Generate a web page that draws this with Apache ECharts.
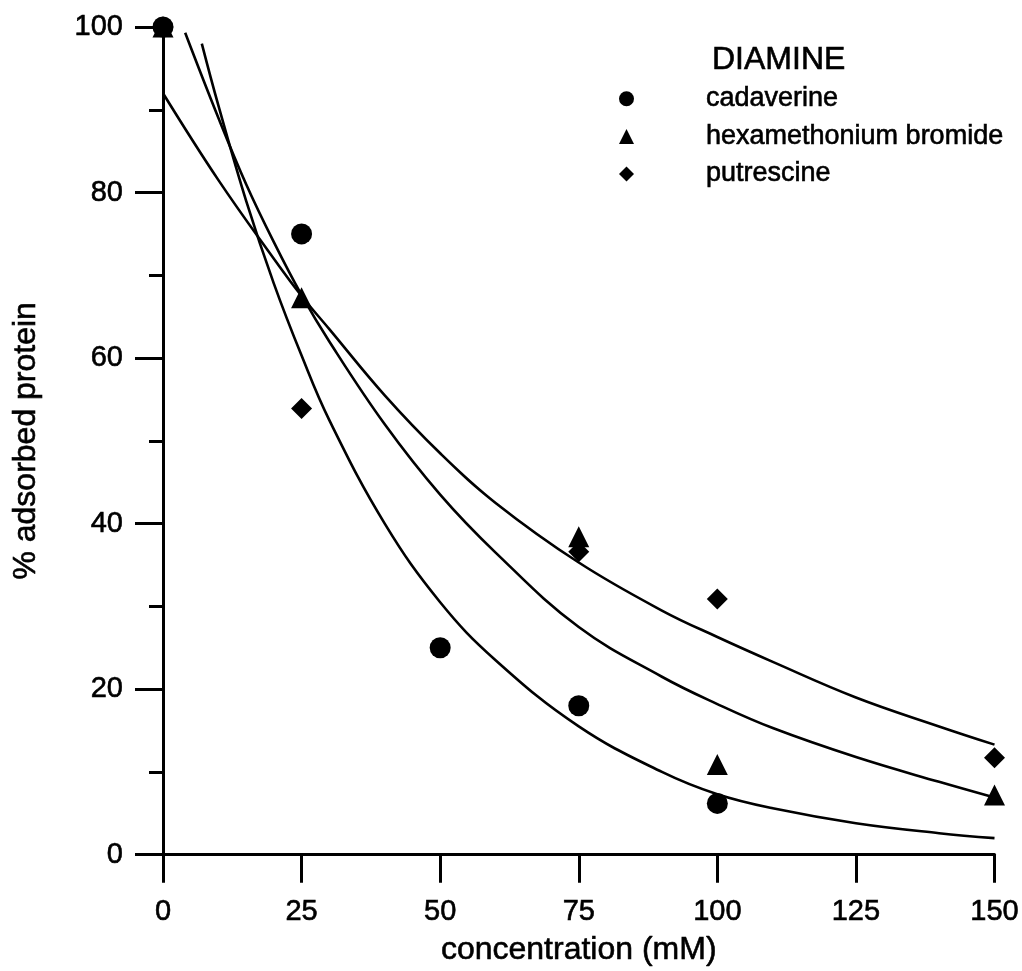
<!DOCTYPE html>
<html>
<head>
<meta charset="utf-8">
<script src="https://cdn.jsdelivr.net/npm/echarts@6/dist/echarts.min.js"></script>
<style>html,body{margin:0;padding:0;background:#fff}#c{width:1022px;height:971px}</style>
</head>
<body>
<div id="c"></div>
<script>
// Measured points
var cadaverine = [[0,100],[25,75],[50,25],[75,18],[100,6.2]];
var hexamethonium = [[0,100],[25,67.3],[75,38.4],[100,10.9],[150,7.2]];
var putrescine = [[0,100],[25,53.9],[75,36.6],[100,30.9],[150,11.7]];
// Fitted curves
var fitCadaverine = [[7,98],[10,90.5],[15,79],[20,69],[25,60.3],[30,52.5],[40,40],[50,30.5],[60,23.5],[75,15.5],[90,10],[100,7.3],[110,5.6],[125,3.8],[140,2.6],[150,2]];
var fitHexamethonium = [[4,99.3],[10,89],[15,81],[20,74],[25,67.6],[30,62],[40,52],[50,43.5],[60,36.5],[75,27.5],[90,21.5],[100,18.2],[110,15.3],[125,11.8],[140,8.8],[150,6.9]];
var fitPutrescine = [[0,92],[10,81.5],[20,72],[25,67.5],[30,63.5],[40,55.5],[50,48.5],[60,42.5],[75,35.3],[90,29.5],[100,26.3],[110,23.3],[125,19],[140,15.5],[150,13.3]];
var names = ['cadaverine','hexamethonium bromide','putrescine'];
var legendTitle = 'DIAMINE';
var xTitle = 'concentration (mM)';
var yTitle = '% adsorbed protein';

var FONT = '"Liberation Sans", Arial, sans-serif';
var BOLDISH = {textBorderColor:'#000', textBorderWidth:0.6};
function ts(size, extra){var o={fontFamily:FONT, fontSize:size, fontWeight:'normal', color:'#000', textBorderColor:'#000', textBorderWidth:0.6};
  if(extra){for(var k in extra){o[k]=extra[k];}} return o;}
var chart = echarts.init(document.getElementById('c'), null, {renderer:'canvas'});
function fit(d){return {type:'line', data:d, smooth:0.4, showSymbol:false, symbol:'none', silent:true,
  lineStyle:{color:'#000', width:2.6}, z:2};}
function pts(name, d, sym, size){return {type:'scatter', name:name, data:d, symbol:sym, symbolSize:size,
  itemStyle:{color:'#000', opacity:1}, clip:false, z:3};}
chart.setOption({
  animation:false,
  backgroundColor:'#fff',
  textStyle:{fontFamily:FONT, color:'#000'},
  title:{text:legendTitle, left:707, top:39, textStyle:ts(32)},
  legend:{data:names, orient:'vertical', left:614, top:80, itemWidth:15, itemHeight:15, itemGap:10,
    textStyle:ts(27, {lineHeight:27, padding:[0,0,0,67]})},
  grid:{left:163, right:27, top:27, bottom:116, containLabel:false},
  xAxis:{type:'value', min:0, max:150, interval:25,
    name:xTitle, nameLocation:'middle', nameGap:79,
    nameTextStyle:ts(32),
    axisLine:{lineStyle:{color:'#000', width:3}},
    axisTick:{show:true, inside:false, length:28, lineStyle:{color:'#000', width:3}},
    axisLabel:ts(29, {margin:43}),
    splitLine:{show:false}},
  yAxis:{type:'value', min:0, max:100, interval:20,
    name:yTitle, nameLocation:'middle', nameGap:121, nameRotate:90,
    nameTextStyle:ts(32),
    axisLine:{lineStyle:{color:'#000', width:3}},
    axisTick:{show:true, inside:false, length:28, lineStyle:{color:'#000', width:3}},
    minorTick:{show:true, splitNumber:2, length:14, lineStyle:{color:'#000', width:3}},
    axisLabel:ts(29, {margin:40}),
    splitLine:{show:false}},
  series:[
    fit(fitCadaverine), fit(fitHexamethonium), fit(fitPutrescine),
    pts(names[0], cadaverine, 'circle', 21),
    pts(names[1], hexamethonium, 'triangle', 21),
    pts(names[2], putrescine, 'diamond', 21)
  ]
});
</script>
</body>
</html>
